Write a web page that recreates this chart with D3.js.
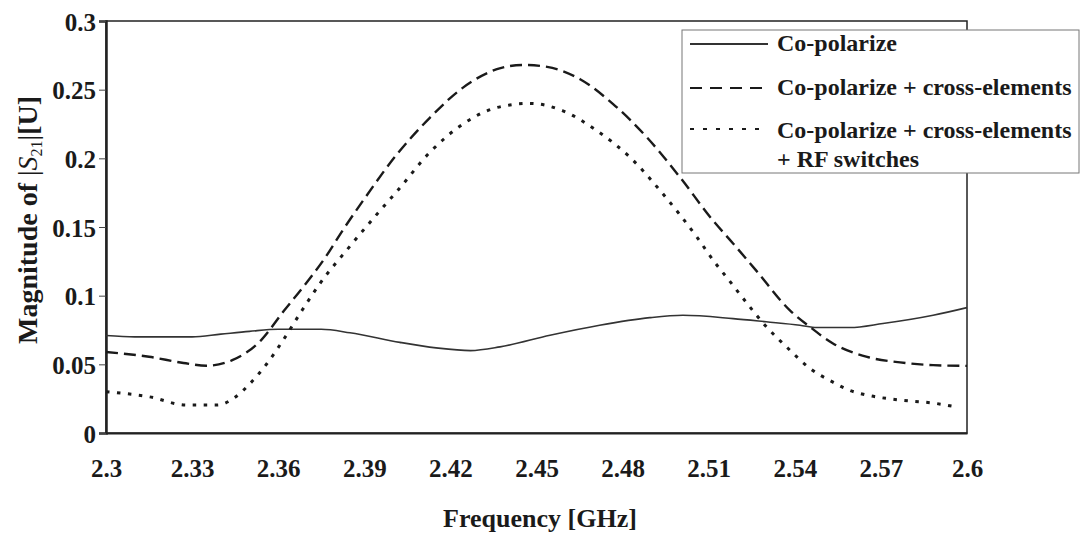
<!DOCTYPE html>
<html>
<head>
<meta charset="utf-8">
<script src="https://cdn.jsdelivr.net/npm/d3@7"></script>
<style>
  body { margin: 0; background: #fff; }
  svg { display: block; }
  text { font-family: "Liberation Serif", "Times New Roman", serif; font-weight: bold; fill: #1a1a1a; }
</style>
</head>
<body>
<div id="chart"></div>
<script>
// values
const coFreq  = [2.300, 2.310, 2.330, 2.340, 2.350, 2.360, 2.375, 2.385, 2.4024, 2.415, 2.427, 2.4373, 2.4547, 2.472, 2.4895, 2.501, 2.5185, 2.530, 2.5418, 2.5477, 2.5592, 2.5707, 2.5882, 2.600];
const coVal   = [0.071, 0.070, 0.070, 0.072, 0.074, 0.0755, 0.0755, 0.073, 0.066, 0.062, 0.060, 0.0627, 0.0712, 0.0785, 0.084, 0.0857, 0.0833, 0.081, 0.0785, 0.0768, 0.0768, 0.0797, 0.0857, 0.0913];

const crossFreq = [2.300, 2.315, 2.327, 2.335, 2.344, 2.354, 2.362, 2.3686, 2.3763, 2.3826, 2.3895, 2.4014, 2.4129, 2.4244, 2.4362, 2.4453, 2.4537, 2.4652, 2.4767, 2.4885, 2.500, 2.5115, 2.5185, 2.5265, 2.5383, 2.5453, 2.5533, 2.5652, 2.5767, 2.5882, 2.600];
const crossVal  = [0.059, 0.0555, 0.051, 0.049, 0.053, 0.0675, 0.089, 0.106, 0.1275, 0.148, 0.169, 0.203, 0.2297, 0.2515, 0.2649, 0.268, 0.2666, 0.2576, 0.2395, 0.2152, 0.1862, 0.1547, 0.138, 0.1184, 0.0893, 0.0772, 0.0652, 0.0554, 0.0514, 0.0494, 0.0489];

const rfFreq = [2.300, 2.315, 2.328, 2.3387, 2.3443, 2.3502, 2.3561, 2.3617, 2.3676, 2.3746, 2.385, 2.3951, 2.4014, 2.4129, 2.4244, 2.4362, 2.4477, 2.4592, 2.4711, 2.4826, 2.4941, 2.5059, 2.5122, 2.5164, 2.522, 2.5296, 2.5376, 2.5453, 2.5533, 2.5592, 2.5652, 2.5767, 2.5882, 2.5965];
const rfVal  = [0.030, 0.0264, 0.0203, 0.0203, 0.025, 0.036, 0.0506, 0.0675, 0.087, 0.109, 0.136, 0.161, 0.176, 0.2045, 0.225, 0.237, 0.240, 0.2346, 0.220, 0.2007, 0.174, 0.1426, 0.124, 0.113, 0.098, 0.0785, 0.0617, 0.047, 0.037, 0.031, 0.0276, 0.024, 0.0218, 0.0189];

const xTicks = [2.3, 2.33, 2.36, 2.39, 2.42, 2.45, 2.48, 2.51, 2.54, 2.57, 2.6];
const yTicks = [0, 0.05, 0.1, 0.15, 0.2, 0.25, 0.3];

const seriesNames = ["Co-polarize", "Co-polarize + cross-elements", "Co-polarize + cross-elements"];

const W = 1083, H = 538;
const margin = {top: 21, right: 116, bottom: 105, left: 106};
const width = W - margin.left - margin.right,
      height = H - margin.top - margin.bottom;

const svgRoot = d3.select("#chart").append("svg")
    .attr("width", W)
    .attr("height", H);

const svg = svgRoot.append("g")
    .attr("transform", "translate(" + margin.left + "," + margin.top + ")");

const x = d3.scaleLinear().domain([2.3, 2.6]).range([0, width]);
const y = d3.scaleLinear().domain([0, 0.3]).range([height, 0]);

// frame (top + right)
svg.append("rect")
    .attr("width", width).attr("height", height)
    .attr("fill", "none")
    .attr("stroke", "#222")
    .attr("stroke-width", 1.5);

// x axis
const xAxis = svg.append("g")
    .attr("transform", `translate(0, ${height})`)
    .call(d3.axisBottom(x).tickValues(xTicks).tickSize(0).tickPadding(26)
      .tickFormat(d => String(+d.toFixed(2))));
xAxis.select(".domain").attr("stroke", "#222").attr("stroke-width", 2);
xAxis.selectAll("text").attr("font-size", 25).style("font-family", "Liberation Serif").attr("fill", "#1a1a1a");

// y axis
const yAxis = svg.append("g")
    .call(d3.axisLeft(y).tickValues(yTicks).tickSize(7).tickPadding(3)
      .tickFormat(d => String(+d.toFixed(2))));
yAxis.select(".domain").attr("stroke", "#222").attr("stroke-width", 2.5);
yAxis.selectAll(".tick line").attr("stroke", "#444").attr("stroke-width", 1);
yAxis.selectAll("text").attr("font-size", 25).attr("dy", "0.36em").style("font-family", "Liberation Serif").attr("fill", "#1a1a1a");

// lines
const line = d3.line()
    .x(d => x(d[0]))
    .y(d => y(d[1]))
    .curve(d3.curveMonotoneX);

const styles = [
  {dash: null, w: 1.6, c: "#333"},
  {dash: "12,6", w: 2.4, c: "#1a1a1a"},
  {dash: "3.5,7.5", w: 3, c: "#1a1a1a"}
];

const allSeries = [
  d3.zip(coFreq, coVal),
  d3.zip(crossFreq, crossVal),
  d3.zip(rfFreq, rfVal)
];

allSeries.forEach((s, i) => {
  svg.append("path")
    .datum(s)
    .attr("fill", "none")
    .attr("stroke", styles[i].c)
    .attr("stroke-width", styles[i].w)
    .attr("stroke-dasharray", styles[i].dash)
    .attr("d", line);
});

// axis titles
svgRoot.append("text")
    .attr("x", 540).attr("y", 527)
    .attr("text-anchor", "middle")
    .attr("font-size", 26)
    .text("Frequency [GHz]");

const yt = svgRoot.append("text")
    .attr("transform", "translate(37, 220) rotate(-90)")
    .attr("text-anchor", "middle")
    .attr("font-size", 28);
yt.append("tspan").text("Magnitude of ");
yt.append("tspan").attr("font-weight", "normal").text("|");
yt.append("tspan").attr("font-style", "italic").attr("font-weight", "normal").text("S");
yt.append("tspan").attr("font-size", 16).attr("font-weight", "normal").attr("dy", 5).text("21");
yt.append("tspan").attr("font-weight", "normal").attr("dy", -5).text("|");
yt.append("tspan").text("[U]");

// legend
const lg = svgRoot.append("g").attr("transform", "translate(682, 30)");
lg.append("rect")
    .attr("width", 397).attr("height", 143)
    .attr("fill", "#fff")
    .attr("stroke", "#777")
    .attr("stroke-width", 1);

const lineY = [14, 58, 99];
const textY = [21, 65, 108];
seriesNames.forEach((name, i) => {
  lg.append("line")
    .attr("x1", 8).attr("x2", 86)
    .attr("y1", lineY[i]).attr("y2", lineY[i])
    .attr("stroke", styles[i].c)
    .attr("stroke-width", i === 0 ? 1.8 : 2)
    .attr("stroke-dasharray", i === 1 ? "12,8" : (i === 2 ? "4,9" : null));
  lg.append("text")
    .attr("x", 95).attr("y", textY[i])
    .attr("font-size", 24)
    .text(name);
});
lg.append("text")
    .attr("x", 95).attr("y", 137)
    .attr("font-size", 24)
    .text("+ RF switches");
</script>
</body>
</html>
